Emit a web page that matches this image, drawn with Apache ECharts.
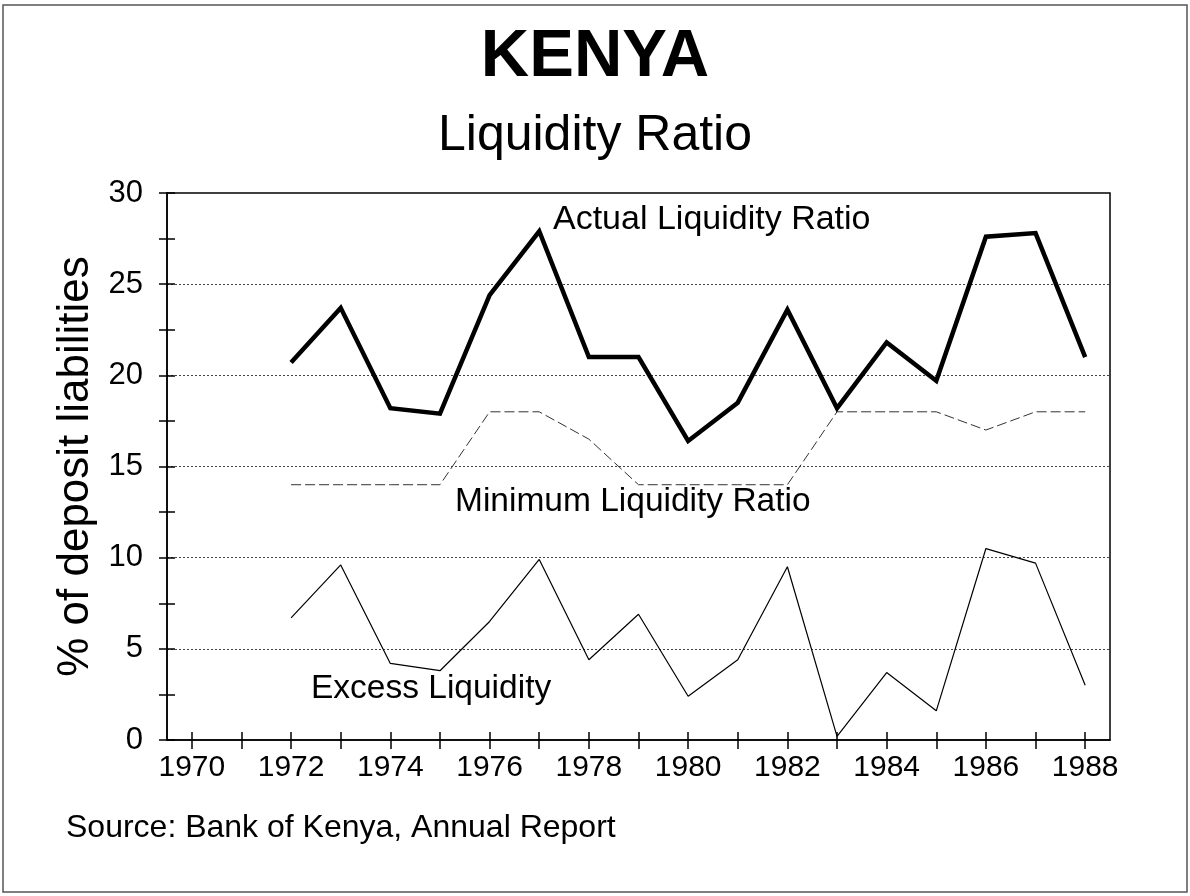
<!DOCTYPE html>
<html>
<head>
    <meta charset="utf-8">
    <title>Kenya Liquidity Ratio</title>
    <script src="https://cdn.jsdelivr.net/npm/echarts@6/dist/echarts.min.js"></script>
    <style>
        * { margin: 0; padding: 0; }
        body { background: #fff; }
    </style>
</head>
<body>
    <div id="main" style="width:1190px;height:896px;"></div>
    <script type="text/javascript">
        // data (1970 and 1971 have no values)
        var years = ['1970', '1971', '1972', '1973', '1974', '1975', '1976', '1977', '1978', '1979',
            '1980', '1981', '1982', '1983', '1984', '1985', '1986', '1987', '1988'];
        var actualRatio = ['-', '-', 20.7, 23.7, 18.2, 17.9, 24.4, 27.9, 21.0, 21.0,
            16.4, 18.5, 23.6, 18.2, 21.8, 19.7, 27.6, 27.8, 21.0];
        var minimumRatio = ['-', '-', 14, 14, 14, 14, 18, 18, 16.5, 14,
            14, 14, 14, 18, 18, 18, 17, 18, 18];
        var excessLiquidity = ['-', '-', 6.7, 9.6, 4.2, 3.8, 6.5, 9.9, 4.4, 6.9,
            2.4, 4.4, 9.5, 0.2, 3.7, 1.6, 10.5, 9.7, 3.0];

        var FONT = 'Liberation Sans, Arial, sans-serif';
        var myChart = echarts.init(document.getElementById('main'));

        var tickStyle = { color: '#000', width: 1.5 };

        var option = {
            backgroundColor: '#fff',
            animation: false,
            textStyle: { fontFamily: FONT, color: '#000' },
            title: [{
                text: 'KENYA',
                left: 'center',
                top: 19,
                textStyle: { fontFamily: FONT, fontSize: 67, fontWeight: 'bold', color: '#000' }
            }, {
                text: 'Liquidity Ratio',
                left: 'center',
                top: 106,
                textStyle: { fontFamily: FONT, fontSize: 50, fontWeight: 'normal', color: '#000' }
            }],
            grid: {
                left: 167,
                top: 193,
                right: 80,
                bottom: 156,
                show: true,
                borderColor: '#000',
                borderWidth: 1.5
            },
            xAxis: [{
                type: 'category',
                data: years,
                boundaryGap: true,
                axisLine: { lineStyle: { color: '#000', width: 1.5 } },
                axisTick: { show: true, alignWithLabel: true, interval: 0, length: 9, lineStyle: tickStyle },
                axisLabel: { interval: 1, margin: 13, fontSize: 30, color: '#000', fontFamily: FONT },
                splitLine: { show: false }
            }, {
                type: 'category',
                data: years,
                position: 'bottom',
                boundaryGap: true,
                axisLine: { show: false },
                axisTick: { show: true, alignWithLabel: true, interval: 0, inside: true, length: 8, lineStyle: tickStyle },
                axisLabel: { show: false },
                splitLine: { show: false }
            }],
            yAxis: [{
                type: 'value',
                min: 0,
                max: 30,
                interval: 5,
                name: '% of deposit liabilities',
                nameLocation: 'middle',
                nameGap: 60,
                nameTextStyle: { fontSize: 44, color: '#000', fontFamily: FONT },
                axisLine: { show: true, lineStyle: { color: '#000', width: 1.5 } },
                axisTick: { show: true, length: 8, lineStyle: tickStyle },
                minorTick: { show: true, splitNumber: 2, length: 8, lineStyle: tickStyle },
                axisLabel: { margin: 24, fontSize: 31, color: '#000', fontFamily: FONT },
                splitLine: { show: true, lineStyle: { color: '#444', type: [2, 2], width: 1 } }
            }, {
                type: 'value',
                min: 0,
                max: 30,
                interval: 2.5,
                position: 'left',
                axisLine: { show: false },
                axisTick: { show: true, inside: true, length: 8, lineStyle: tickStyle },
                axisLabel: { show: false },
                splitLine: { show: false }
            }],
            series: [{
                name: 'Actual Liquidity Ratio',
                type: 'line',
                data: actualRatio,
                symbol: 'none',
                lineStyle: { color: '#000', width: 4.5, join: 'miter' },
                z: 5
            }, {
                name: 'Minimum Liquidity Ratio',
                type: 'line',
                data: minimumRatio,
                symbol: 'none',
                lineStyle: { color: '#333', width: 1, type: [10, 4] }
            }, {
                name: 'Excess Liquidity',
                type: 'line',
                data: excessLiquidity,
                symbol: 'none',
                lineStyle: { color: '#000', width: 1.2 }
            }],
            graphic: [{
                type: 'rect',
                shape: { x: 3, y: 5, width: 1184, height: 887 },
                style: { fill: 'none', stroke: '#555', lineWidth: 1.5 },
                z: -1
            }, {
                type: 'text',
                left: 553,
                top: 203,
                style: { text: 'Actual Liquidity Ratio', font: '34px ' + FONT, fill: '#000' }
            }, {
                type: 'text',
                left: 455,
                top: 485,
                style: { text: 'Minimum Liquidity Ratio', font: '33.5px ' + FONT, fill: '#000' }
            }, {
                type: 'text',
                left: 311,
                top: 672,
                style: { text: 'Excess Liquidity', font: '33.5px ' + FONT, fill: '#000' }
            }, {
                type: 'text',
                left: 66,
                top: 812,
                style: { text: 'Source: Bank of Kenya, Annual Report', font: '32px ' + FONT, fill: '#000' }
            }]
        };

        myChart.setOption(option);
        window.onresize = myChart.resize;
    </script>
</body>
</html>
